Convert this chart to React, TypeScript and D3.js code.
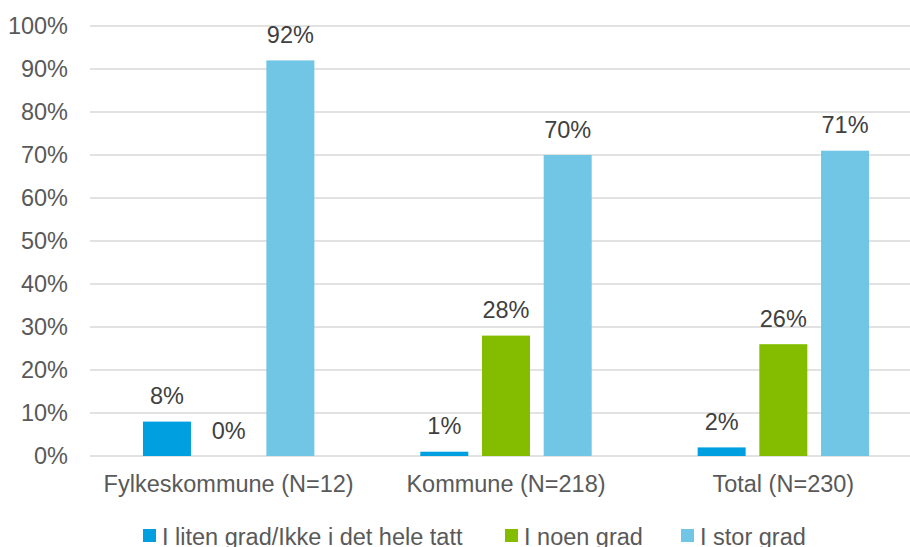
import React from "react";
import * as d3 from "d3";

const categories = ["Fylkeskommune (N=12)", "Kommune (N=218)", "Total (N=230)"];
const seriesNames = ["I liten grad/Ikke i det hele tatt", "I noen grad", "I stor grad"];
const seriesColors = ["#009FDF", "#84BD00", "#71C6E6"];
const lowValues = [8, 1, 2];
const midValues = [0, 28, 26];
const highValues = [92, 70, 71];
const yTicks = [0, 10, 20, 30, 40, 50, 60, 70, 80, 90, 100];

const W = 910;
const H = 547;
const FONT = "'Liberation Sans', Arial, Helvetica, sans-serif";
const FS = 23.5;

export default function App() {
  const seriesValues = [lowValues, midValues, highValues];
  const y = d3.scaleLinear().domain([0, 100]).range([456, 26]);
  const x0 = d3.scaleBand<string>().domain(categories).range([90, 922]).padding(0);
  const x1 = d3
    .scaleBand<string>()
    .domain(seriesNames)
    .range([-85.7, 85.7])
    .paddingInner(0.222)
    .paddingOuter(0);

  const legendX = [143, 505, 681];

  return (
    <svg
      width={W}
      height={H}
      style={{ position: "absolute", left: 0, top: 0, display: "block", background: "#fff" }}
      fontFamily={FONT}
    >
      {yTicks.map((t) => (
        <g key={t}>
          <line x1={90} x2={W} y1={y(t)} y2={y(t)} stroke="#D9D9D9" strokeWidth={1.3} />
          <text x={68} y={y(t) + 8} textAnchor="end" fontSize={FS} fill="#595959">
            {t}%
          </text>
        </g>
      ))}
      {categories.map((c, ci) => {
        const cx = (x0(c) as number) + x0.bandwidth() / 2;
        return (
          <g key={c}>
            {seriesNames.map((s, si) => {
              const v = seriesValues[si][ci];
              const bx = cx + (x1(s) as number);
              const by = y(v);
              return (
                <g key={s}>
                  <rect x={bx} y={by} width={x1.bandwidth()} height={y(0) - by} fill={seriesColors[si]} />
                  <text
                    x={bx + x1.bandwidth() / 2}
                    y={by - 17.5}
                    textAnchor="middle"
                    fontSize={FS}
                    fill="#404040"
                  >
                    {v}%
                  </text>
                </g>
              );
            })}
            <text x={cx} y={492} textAnchor="middle" fontSize={FS} fill="#595959">
              {c}
            </text>
          </g>
        );
      })}
      {seriesNames.map((s, si) => (
        <g key={s}>
          <rect x={legendX[si]} y={529} width={13} height={13} fill={seriesColors[si]} />
          <text x={legendX[si] + 19} y={544.5} fontSize={FS} fill="#595959">
            {s}
          </text>
        </g>
      ))}
    </svg>
  );
}
